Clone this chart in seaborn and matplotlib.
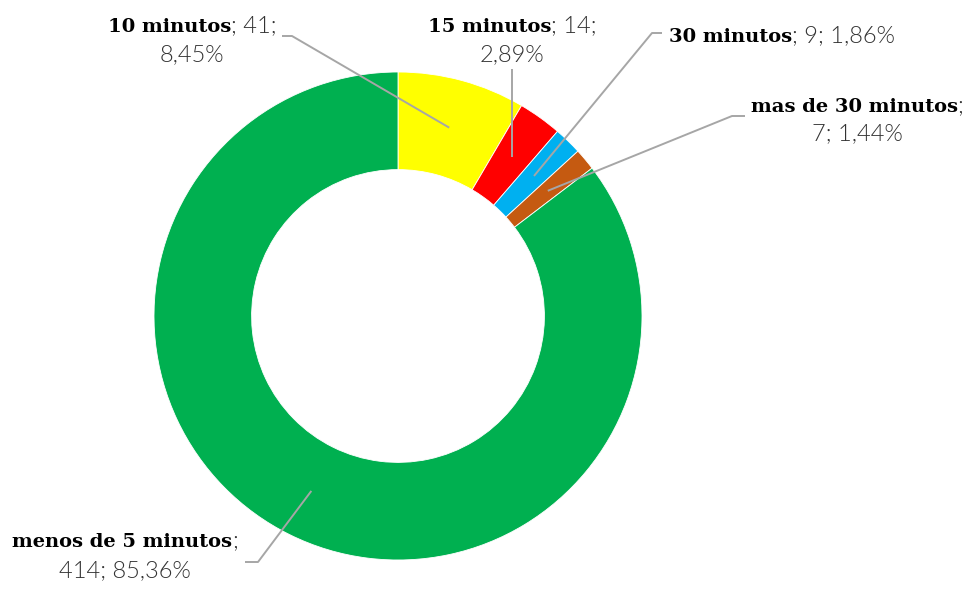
import matplotlib
matplotlib.use("Agg")
import matplotlib.pyplot as plt
import numpy as np
import seaborn as sns

# Response time categories, counts and shares
categories = ["10 minutos", "15 minutos", "30 minutos", "mas de 30 minutos", "menos de 5 minutos"]
counts = [41, 14, 9, 7, 414]
shares = ["8,45%", "2,89%", "1,86%", "1,44%", "85,36%"]
colors = ["#FFFF00", "#FF0000", "#00B0F0", "#C55A11", "#00B050"]

sns.set_theme(style="white")

W, H = 968, 590
fig = plt.figure(figsize=(W / 100, H / 100), dpi=100)
ax = fig.add_axes([0, 0, 1, 1])
ax.set_xlim(0, W)
ax.set_ylim(0, H)
ax.set_aspect("equal")
ax.axis("off")


def px(x, y):
    """Pixel position (origin top-left) to data coordinates."""
    return x, H - y


cx, cy = px(398, 316)
R = 244
ax.pie(counts, colors=colors, startangle=90, counterclock=False,
       center=(cx, cy), radius=R,
       wedgeprops=dict(width=0.4 * R, edgecolor="white", linewidth=0.6))
ax.set_xlim(0, W)
ax.set_ylim(0, H)

bold_font = dict(family="DejaVu Serif", weight="bold", size=14, color="#000000")
light_font = dict(family="Lato", weight=300, size=17, color="#333333")

fig.canvas.draw()
renderer = fig.canvas.get_renderer()


def runs_line(x_center, y_base, runs):
    """Draw a line of mixed-style text runs centred on x_center."""
    widths = []
    artists = []
    for text, style in runs:
        t = ax.text(0, 0, text, ha="left", va="baseline", **style)
        widths.append(t.get_window_extent(renderer).width)
        artists.append(t)
    x = x_center - sum(widths) / 2
    for t, w in zip(artists, widths):
        t.set_position(px(x, y_base))
        x += w


# Label text layout: (center x, baselines) per category
label_lines = [
    (192, [(32, [(categories[0], bold_font), (f"; {counts[0]};", light_font)]),
           (61, [(shares[0], light_font)])]),
    (512, [(32, [(categories[1], bold_font), (f"; {counts[1]};", light_font)]),
           (61, [(shares[1], light_font)])]),
    (782, [(42, [(categories[2], bold_font), (f"; {counts[2]}; {shares[2]}", light_font)])]),
    (857, [(112, [(categories[3], bold_font), (";", light_font)]),
           (140, [(f"{counts[3]}; {shares[3]}", light_font)])]),
    (125, [(547, [(categories[4], bold_font), (";", light_font)]),
           (577, [(f"{counts[4]}; {shares[4]}", light_font)])]),
]
for xc, lines in label_lines:
    for yb, runs in lines:
        runs_line(xc, yb, runs)

# Leader lines: from the middle of each ring segment to its label
total = sum(counts)
cum = np.cumsum([0] + counts)
mid_angles = [(cum[i] + counts[i] / 2) / total * 2 * np.pi for i in range(len(counts))]
anchors = [(cx + 0.8 * R * np.sin(a), cy + 0.8 * R * np.cos(a)) for a in mid_angles]

leader_ends = [
    [px(292, 36), px(282, 36)],
    None,
    [px(652, 33), px(662, 33)],
    [px(732, 116), px(745, 116)],
    [px(258, 562), px(245, 562)],
]
for i, (ax0, ay0) in enumerate(anchors):
    if leader_ends[i] is None:
        pts = [(ax0, ay0), (ax0, H - 69)]
    else:
        pts = [(ax0, ay0)] + leader_ends[i]
    xs, ys = zip(*pts)
    ax.plot(xs, ys, color="#A6A6A6", linewidth=1.4, solid_capstyle="butt", zorder=5)

fig.savefig("out.png", dpi=100, facecolor="white")
